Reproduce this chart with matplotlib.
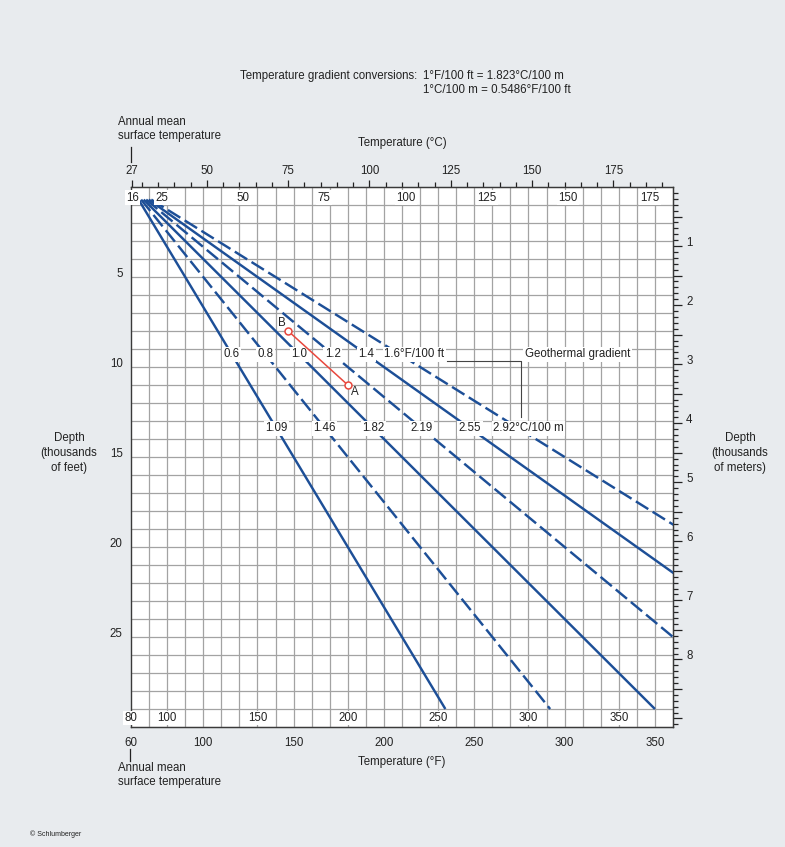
import numpy as np
import matplotlib
matplotlib.use("Agg")
import matplotlib.pyplot as plt
from matplotlib.ticker import FuncFormatter

# geothermal gradients, degF per 100 ft, with the metric equivalents
grad_f = [0.6, 0.8, 1.0, 1.2, 1.4, 1.6]
grad_c = ["1.09", "1.46", "1.82", "2.19", "2.55", "2.92"]
dashed = [False, True, False, True, False, True]
surface_f = 80          # annual mean surface temperature on the main scale
alt_offset_f = 20       # second set of scales (60 degF / 16 degC surface)

# worked example B -> A
pt_names = ["B", "A"]
pt_temp_f = [167, 200]
pt_depth_kft = [8, 11]

# scale labels
top_c_outer = [27, 50, 75, 100, 125, 150, 175]
top_c_inner = [16, 25, 50, 75, 100, 125, 150, 175]
bot_f_inner = [80, 100, 150, 200, 250, 300, 350]
bot_f_outer = [60, 100, 150, 200, 250, 300, 350]
depth_m_labels = [1, 2, 3, 4, 5, 6, 7, 8]

BG = "#e8ebee"
BLUE = "#1d4f97"
RED = "#e8473d"
GRID = "#a3a3a3"
INK = "#222222"
FS = 8.3

plt.rcParams["font.family"] = ["Liberation Sans Narrow", "Liberation Sans", "DejaVu Sans"]
plt.rcParams["ytick.alignment"] = "baseline"
plt.rcParams["text.color"] = INK

W, H = 785, 847


def fx(px):
    return px / W


def fy(py):
    return 1 - py / H


fig = plt.figure(figsize=(W / 100, H / 100), dpi=100, facecolor=BG)
ax = fig.add_axes([fx(131), fy(727), 542 / W, 540 / H])
ax.set_facecolor("white")
ax.set_xlim(80, 380)
ax.set_ylim(30, 0)

# grid: 10 degF x 1000 ft
ax.set_xticks(np.arange(90, 380, 10))
ax.set_yticks(np.arange(1, 30, 1))
ax.yaxis.set_major_formatter(FuncFormatter(lambda v, p: f"{int(v)}" if v % 5 == 0 else ""))
ax.tick_params(axis="x", length=0, labelbottom=False)
ax.tick_params(axis="y", length=0, pad=6, labelsize=FS, colors=INK)
ax.grid(True, color=GRID, lw=0.9)
ax.set_axisbelow(True)
for s in ax.spines.values():
    s.set_color("#3a3a3a")
    s.set_linewidth(1.0)

# gradient lines
d = np.array([0.7, 29.0])
for g, dsh in zip(grad_f, dashed):
    t = surface_f + g * 10 * d
    ls = (0, (6.0, 2.1)) if dsh else "-"
    ax.plot(t, d, color=BLUE, lw=1.75, ls=ls, solid_capstyle="butt", zorder=3)

box = dict(fc="white", ec="none", pad=1.0)
row_f, row_c = 9.3, 13.4
for i, (g, gc) in enumerate(zip(grad_f, grad_c)):
    tf = surface_f + g * 10 * row_f
    tc = surface_f + g * 10 * row_c
    if i == len(grad_f) - 1:
        ax.text(tf - 8.5, row_f, f"{g:.1f}°F/100 ft", ha="left", va="center",
                fontsize=FS, bbox=box, zorder=4)
        ax.text(tc - 14, row_c, f"{gc}°C/100 m", ha="left", va="center",
                fontsize=FS, bbox=box, zorder=4)
    else:
        ax.text(tf, row_f, f"{g:.1f}", ha="center", va="center", fontsize=FS,
                bbox=box, zorder=4)
        ax.text(tc, row_c, gc, ha="center", va="center", fontsize=FS,
                bbox=box, zorder=4)

# leader to "Geothermal gradient"
ax.plot([255, 296, 296], [9.68, 9.68, 12.75], color="#444444", lw=0.8, zorder=4)
ax.text(298, row_f, "Geothermal gradient", ha="left", va="center", fontsize=FS,
        bbox=box, zorder=4)

# example B-A
ax.plot(pt_temp_f, pt_depth_kft, color=RED, lw=1.1, marker="o", ms=5,
        mfc="white", mec=RED, mew=1.1, zorder=5)
ax.annotate(pt_names[0], (pt_temp_f[0], pt_depth_kft[0]), xytext=(-4.5, 6),
            textcoords="offset points", ha="center", va="center", fontsize=FS, zorder=6)
ax.annotate(pt_names[1], (pt_temp_f[1], pt_depth_kft[1]), xytext=(5, -5),
            textcoords="offset points", ha="center", va="center", fontsize=FS, zorder=6)

# inner labels (top: degC for 60 degF surface, bottom: degF for 80 degF surface)
for c in top_c_inner:
    ax.text(c * 1.8 + 32 + alt_offset_f, 0.6, str(c), ha="center", va="center",
            fontsize=FS, bbox=box, zorder=4)
for f in bot_f_inner:
    ax.text(f, 29.5, str(f), ha="center", va="center", fontsize=FS,
            bbox=box, zorder=4)

# outer top: degC
sec_t = ax.secondary_xaxis("top", functions=(lambda f: (f - 32) / 1.8,
                                             lambda c: c * 1.8 + 32))
sec_t.set_xticks(top_c_outer)
sec_t.set_xticks(np.arange(30, 195, 5), minor=True)
sec_t.tick_params(which="major", length=5, width=0.9, pad=2.5, labelsize=FS,
                  colors=INK)
sec_t.tick_params(which="minor", length=3.5, width=0.9, colors=INK)
sec_t.spines["top"].set_color("#3a3a3a")

# outer bottom: degF for 60 degF surface
sec_b = ax.secondary_xaxis("bottom", functions=(lambda f: f - alt_offset_f,
                                                lambda f: f + alt_offset_f))
sec_b.set_xticks(bot_f_outer)
sec_b.tick_params(length=0, pad=7, labelsize=FS, colors=INK)
sec_b.spines["bottom"].set_color("#3a3a3a")

# right: thousands of meters
sec_r = ax.secondary_yaxis("right", functions=(lambda k: k * 0.3048,
                                               lambda m: m / 0.3048))
sec_r.set_yticks(np.arange(0.5, 9.15, 0.5))
sec_r.set_yticks(np.arange(0.1, 9.15, 0.1), minor=True)
sec_r.yaxis.set_major_formatter(
    FuncFormatter(lambda v, p: f"{int(round(v))}" if abs(v - round(v)) < 1e-6
                  and round(v) in depth_m_labels else ""))
sec_r.tick_params(which="major", length=6.5, width=0.9, pad=3, labelsize=FS,
                  colors=INK)
sec_r.tick_params(which="minor", length=3.5, width=0.9, colors=INK)
sec_r.spines["right"].set_color("#3a3a3a")

# free texts
fig.text(fx(417), fy(76), "Temperature gradient conversions:", ha="right",
         va="center", fontsize=FS)
fig.text(fx(423), fy(76), "1°F/100 ft = 1.823°C/100 m", ha="left", va="center",
         fontsize=FS)
fig.text(fx(423), fy(90), "1°C/100 m = 0.5486°F/100 ft", ha="left", va="center",
         fontsize=FS)

fig.text(fx(118), fy(129), "Annual mean\nsurface temperature", ha="left",
         va="center", fontsize=FS, linespacing=1.2)
fig.add_artist(plt.Line2D([fx(131), fx(131)], [fy(147), fy(162)], color=INK, lw=0.9))
fig.text(fx(402), fy(143), "Temperature (°C)", ha="center", va="center", fontsize=FS)

fig.text(fx(402), fy(762), "Temperature (°F)", ha="center", va="center", fontsize=FS)
fig.add_artist(plt.Line2D([fx(130), fx(130)], [fy(749), fy(761)], color=INK, lw=0.9))
fig.text(fx(118), fy(775), "Annual mean\nsurface temperature", ha="left",
         va="center", fontsize=FS, linespacing=1.25)

fig.text(fx(69), fy(453), "Depth\n(thousands\nof feet)", ha="center", va="center",
         fontsize=FS, linespacing=1.3)
fig.text(fx(740), fy(453), "Depth\n(thousands\nof meters)", ha="center",
         va="center", fontsize=FS, linespacing=1.3)

fig.text(fx(30), fy(834), "© Schlumberger", ha="left", va="center", fontsize=5)

fig.savefig("out.png", dpi=100, facecolor=BG)
